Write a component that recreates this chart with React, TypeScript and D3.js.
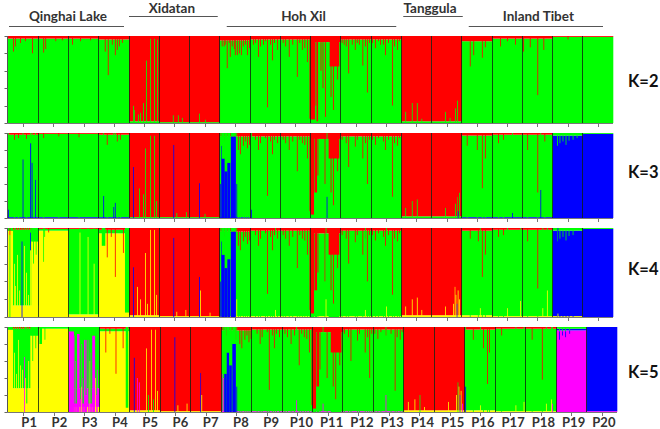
import React from "react";
import * as d3 from "d3";

// ---------------- DATA ----------------
const POPULATIONS = ["P1","P2","P3","P4","P5","P6","P7","P8","P9","P10","P11","P12","P13","P14","P15","P16","P17","P18","P19","P20"];
const GROUP_NAMES = ["Qinghai Lake","Xidatan","Hoh Xil","Tanggula","Inland Tibet"];
const GROUP_FIRST = ["P1","P5","P8","P14","P16"];
const GROUP_LAST = ["P4","P7","P13","P15","P20"];
const K_VALUES = [2,3,4,5];
const K_LABELS = ["K=2","K=3","K=4","K=5"];
const CLUSTER_KEYS = ["Y","M","B","G","R"];
const CLUSTER_COLORS = ["#ffff00","#ff00ff","#0000ff","#00ff00","#ff0000"];
const STACK_K2 = ["G","R"];
const STACK_K3 = ["B","G","R"];
const STACK_K4 = ["Y","B","G","R"];
const STACK_K5 = ["Y","M","B","G","R"];
const INDIVIDUALS_PER_POP = 60;
const Y_TICKS = [0,0.2,0.4,0.6,0.8,1];

// population default membership (per K)
const BASE_K2 = ["G97R3","G97R3","G97R3","G96R4","R98G2","R99G1","R99G1","G95R5","G96R4","G96R4","G93R7","G96R4","G96R4","R98G2","R98G2","G94R6","G97R3","G97R3","G99R1","G99R1"];
const BASE_K3 = ["G97R2B1","G98R1B1","G98R1B1","G97R2B1","R99G1","R99G1","R99G1","G95R4B1","G96R4","G96R4","G93R7","G96R4","G96R4","R98G2","R98G2","G96R3B1","G97R2B1","G97R2B1","B97G3","B99G1"];
const BASE_K4 = ["G85Y13R2","Y97G2R1","G96Y3R1","Y94G4R2","R98Y2","R99Y1","R99Y1","G95R4Y1","G96R3Y1","G96R3Y1","G93R6Y1","G96R3Y1","G96R3Y1","R98Y2","R98Y2","G95R3Y2","G97R2Y1","G97R2Y1","B96G3Y1","B99G1"];
const BASE_K5 = ["G70Y28R2","Y98G2","G72M22Y6","Y95G3R2","R98Y2","R99Y1","R99Y1","G95R4M1","G96R3M1","G96R3M1","G93R6M1","G96R3M1","G96R3M1","R98Y2","R98Y2","G95R3Y2","G97R2Y1","G97R2Y1","M96G2B2","B99M1"];

// small red top-spikes shared by the Hoh Xil populations (pop, individual, membership)
const HOHXIL_MINOR = [
  [8,10,"R10"],[8,18,"R8"],[8,28,"R15"],[8,50,"R10"],[8,58,"R14"],
  [9,10,"R8"],[9,20,"R12"],[9,30,"R6"],[9,40,"R10"],[9,48,"R8"],
  [10,5,"R8"],[10,10,"R12"],[10,24,"R10"],[10,38,"R8"],[10,48,"R14"],
  [12,2,"R8"],[12,10,"R12"],[12,32,"R8"],[12,48,"R12"],[12,56,"R8"],
  [13,2,"R8"],[13,14,"R6"],[13,24,"R10"],[13,34,"R8"],[13,46,"R12"],[13,56,"R6"],
];

// admixed individuals: [population, first individual, last individual, membership]
const SPIKES_K2 = [
  [1,10,10,"R18"],[1,14,14,"R12"],[1,24,24,"R8"],[1,34,34,"R6"],[1,48,48,"R20"],
  [2,10,10,"R19"],[2,14,14,"R15"],[2,34,34,"R6"],[2,47,47,"R5"],
  [3,7,7,"R10"],[3,23,23,"R6"],[3,43,43,"R5"],
  [4,12,12,"R18"],[4,18,18,"R45"],[4,26,26,"R10"],[4,32,32,"R22"],[4,36,36,"R16"],[4,40,40,"R12"],[4,46,46,"R8"],
  [5,8,8,"G20"],[5,10,10,"G15"],[5,18,18,"G10"],[5,22,22,"G12"],[5,28,28,"G23"],[5,34,34,"G72"],[5,42,42,"G97"],[5,50,50,"G97"],[5,56,56,"G96"],
  [6,27,27,"G9"],[6,37,37,"G9"],[6,45,45,"G6"],
  [7,19,19,"G11"],[7,31,31,"G4"],
  [8,4,4,"R12"],[8,8,8,"R12"],[8,14,14,"R37"],[8,20,20,"R24"],[8,24,24,"R12"],[8,30,30,"R22"],[8,34,34,"R22"],[8,38,38,"R20"],[8,42,42,"R22"],[8,46,46,"R12"],[8,54,54,"R22"],
  [9,6,6,"R10"],[9,16,16,"R24"],[9,26,26,"R10"],[9,34,34,"R82"],[9,44,44,"R28"],[9,54,54,"R16"],
  [10,17,17,"R24"],[10,33,33,"R47"],[10,43,43,"R16"],[10,53,53,"R30"],[10,58,59,"R95"],
  [11,0,8,"R96"],[11,10,10,"R80"],[11,12,14,"R98"],[11,20,20,"R40"],[11,24,24,"R60"],[11,29,29,"R93"],[11,38,56,"R35"],[11,40,40,"R70"],[11,45,45,"R85"],[11,53,53,"R50"],
  [12,6,6,"R10"],[12,15,15,"R43"],[12,22,22,"R10"],[12,28,28,"R16"],[12,36,36,"R10"],[12,43,43,"R34"],[12,52,52,"R65"],
  [13,8,8,"R14"],[13,18,18,"R10"],[13,28,28,"R22"],[13,42,42,"R80"],[13,52,52,"R16"],
  [14,8,8,"G13"],[14,21,21,"G23"],[14,31,31,"G23"],[14,40,40,"G5"],
  [15,27,27,"G13"],[15,36,36,"G6"],[15,47,47,"G17"],[15,51,51,"G26"],
  [16,16,16,"R35"],[16,23,23,"R22"],[16,40,40,"R25"],[16,46,46,"R13"],
  [17,16,16,"R12"],[17,30,30,"R6"],[17,46,46,"R10"],
  [18,2,2,"R18"],[18,15,15,"R13"],[18,30,30,"R68"],[18,42,42,"R16"],
  [19,30,30,"R4"],
];

const SPIKES_K3 = [
  [1,0,0,"B10"],[1,12,12,"R8"],[1,20,20,"R6"],[1,29,29,"B69"],[1,36,36,"R7"],[1,44,45,"B88"],[1,47,47,"B65"],[1,54,54,"B45"],
  [2,10,10,"R6"],[2,40,40,"R4"],
  [3,20,20,"R5"],
  [4,9,9,"B26"],[4,16,16,"R14"],[4,29,29,"B13"],[4,32,32,"B18"],[4,36,36,"R10"],[4,42,42,"R8"],
  [5,8,8,"B60"],[5,20,20,"G35"],[5,28,28,"G28"],[5,32,32,"G82"],[5,42,42,"G97"],[5,50,50,"G97"],[5,54,54,"G20"],
  [6,28,28,"B86"],[6,34,34,"G6"],[6,53,53,"G7"],
  [7,19,19,"B41"],[7,30,30,"G5"],
  [8,1,1,"B40"],[8,3,3,"B85"],[8,4,9,"B70"],[8,10,14,"B55"],[8,15,20,"B65"],[8,22,31,"B96"],[8,33,33,"B40"],[8,36,36,"R20"],[8,40,40,"R25"],[8,46,46,"R15"],[8,54,54,"R18"],
  [9,2,2,"B10"],[9,16,16,"R20"],[9,34,34,"R74"],[9,44,44,"R25"],[9,54,54,"R12"],
  [10,17,17,"R20"],[10,33,33,"R45"],[10,43,43,"R12"],[10,53,53,"R30"],[10,58,59,"R92"],
  [11,0,6,"R96"],[11,8,12,"R70"],[11,14,14,"R50"],[11,28,28,"R60"],[11,32,32,"B25"],[11,36,56,"R30"],[11,40,40,"R70"],[11,45,45,"R85"],[11,53,53,"R45"],
  [12,15,15,"R40"],[12,28,28,"R16"],[12,43,43,"R30"],[12,52,52,"R60"],
  [13,8,8,"R14"],[13,28,28,"R20"],[13,42,42,"R75"],[13,52,52,"R15"],
  [14,8,8,"G12"],[14,21,21,"G20"],[14,31,31,"G22"],
  [15,27,27,"G12"],[15,47,47,"G17"],[15,51,51,"G25"],[15,52,52,"B8"],[15,55,55,"G30"],
  [16,10,10,"R15"],[16,30,30,"R20"],[16,40,40,"R65"],[16,46,46,"R30"],
  [17,12,12,"R12"],[17,22,22,"R8"],[17,40,40,"B6"],
  [18,10,10,"R20"],[18,30,30,"R70"],[18,36,36,"B33"],[18,44,44,"R10"],
  [19,9,9,"G15"],[19,14,14,"G12"],[19,20,20,"G10"],[19,26,26,"G14"],[19,32,32,"G9"],[19,40,40,"G8"],[19,48,48,"G6"],
];

const SPIKES_K4 = [
  [1,0,9,"Y97"],[1,3,3,"R8"],[1,12,12,"Y60"],[1,14,14,"Y35"],[1,18,18,"Y70"],[1,22,22,"Y30"],[1,27,27,"B85"],[1,32,32,"Y80"],[1,36,36,"Y50"],[1,40,40,"Y25"],[1,44,44,"Y75B20"],[1,46,59,"Y85"],[1,50,50,"Y60"],[1,55,55,"Y70"],
  [2,10,10,"G38"],[2,12,12,"G10"],[2,20,20,"R5"],
  [3,22,22,"Y95"],[3,38,38,"Y90"],[3,50,50,"Y60"],
  [4,6,12,"G20"],[4,16,16,"R33"],[4,24,24,"R10"],[4,32,32,"R55"],[4,48,48,"R28"],[4,52,59,"G95"],
  [5,8,8,"B56"],[5,16,16,"Y34"],[5,22,22,"Y20"],[5,32,32,"Y72"],[5,36,36,"Y15"],[5,42,42,"Y98"],[5,50,50,"Y98"],[5,54,54,"Y25"],
  [6,28,28,"B89"],[6,34,34,"Y6"],[6,52,52,"Y8"],
  [7,19,19,"B45"],[7,21,21,"Y30"],[7,40,40,"Y5"],
  [8,1,1,"B40"],[8,3,3,"B85"],[8,4,9,"B70"],[8,10,14,"B55"],[8,15,20,"B65"],[8,22,31,"B96"],[8,33,33,"Y20"],[8,36,36,"R20"],[8,40,40,"R25"],[8,46,46,"R15"],[8,54,54,"R18"],
  [9,16,16,"R20"],[9,34,34,"R74"],[9,44,44,"R25"],[9,50,50,"Y8"],[9,54,54,"R12"],
  [10,17,17,"R20"],[10,33,33,"R45"],[10,43,43,"R12"],[10,53,53,"R30"],[10,58,59,"R92"],
  [11,0,6,"R96"],[11,8,12,"R70"],[11,14,14,"R50"],[11,28,28,"R60"],[11,30,30,"Y20"],[11,36,56,"R30"],[11,40,40,"R70"],[11,45,45,"R85"],[11,53,53,"R45"],
  [12,15,15,"R40"],[12,28,28,"R16"],[12,43,43,"R30"],[12,48,48,"Y8"],[12,52,52,"R60"],
  [13,8,8,"R14"],[13,28,28,"R20"],[13,30,30,"Y12"],[13,42,42,"R75"],[13,52,52,"R15"],
  [14,8,8,"Y12"],[14,21,21,"Y20"],[14,31,31,"Y22"],[14,40,40,"Y8"],
  [15,27,27,"Y12"],[15,43,43,"Y15"],[15,46,46,"Y34"],[15,48,48,"Y25"],[15,50,50,"B15"],[15,52,52,"Y30"],[15,55,55,"Y20"],
  [16,16,16,"R12"],[16,32,32,"R15"],[16,36,36,"Y10"],[16,40,40,"R55"],[16,46,46,"R30"],
  [17,12,12,"R10"],[17,22,22,"R8"],[17,30,30,"Y10"],[17,56,56,"Y18"],
  [18,10,10,"R15"],[18,30,30,"R68"],[18,40,40,"Y10"],[18,49,49,"Y30"],
  [19,9,9,"G15"],[19,10,10,"Y4"],[19,14,14,"G12"],[19,20,20,"G10"],[19,26,26,"G14"],[19,32,32,"G9"],[19,40,40,"G8"],
];

const SPIKES_K5 = [
  [1,0,9,"Y97"],[1,12,12,"Y70"],[1,16,16,"Y45"],[1,20,20,"Y85"],[1,24,24,"Y55"],[1,28,28,"Y50"],[1,32,32,"M65"],[1,34,34,"Y40"],[1,36,37,"G90"],[1,40,40,"Y60"],[1,44,59,"Y90"],[1,48,48,"Y60"],[1,54,54,"Y75"],
  [2,2,6,"Y80"],[2,12,12,"Y85"],
  [3,0,9,"M95"],[3,10,10,"G90"],[3,11,11,"M90"],[3,12,12,"G90"],[3,13,13,"M60"],[3,14,14,"G90"],[3,16,20,"M92"],[3,22,22,"G85"],
  [3,24,24,"Y30"],[3,25,25,"M80"],[3,26,26,"G90"],[3,27,27,"M40"],[3,28,28,"G90"],[3,30,35,"M85"],[3,33,33,"G80"],
  [3,38,38,"G90"],[3,39,39,"M85"],[3,40,40,"G90"],[3,41,41,"Y60"],[3,42,42,"G90"],[3,43,43,"M70"],[3,44,44,"G90"],
  [3,46,51,"M90"],[3,52,52,"Y40"],[3,54,54,"G80"],[3,55,55,"M50"],
  [4,12,12,"R30"],[4,20,20,"R8"],[4,32,32,"R55"],[4,46,46,"R25"],[4,52,56,"G95"],
  [5,8,8,"B64"],[5,14,14,"M40"],[5,18,18,"M35"],[5,32,32,"Y75"],[5,36,36,"G20"],[5,42,42,"Y97"],[5,46,46,"G15"],[5,50,50,"Y97"],[5,54,54,"Y25"],
  [6,28,28,"B88"],[6,34,34,"Y8"],[6,52,52,"Y10"],
  [7,19,19,"B46"],[7,21,21,"Y20"],
  [8,1,1,"M45"],[8,4,4,"M40"],[8,6,10,"B45"],[8,11,15,"B70"],[8,16,20,"B55"],[8,22,28,"B80"],[8,30,30,"B30"],[8,36,36,"R20"],[8,40,40,"R25"],[8,46,46,"R15"],[8,54,54,"R18"],
  [9,16,16,"R20"],[9,34,34,"R74"],[9,44,44,"R25"],[9,54,54,"R12"],
  [10,17,17,"R20"],[10,28,28,"M14"],[10,33,33,"R45"],[10,43,43,"R12"],[10,53,53,"R30"],[10,58,59,"R92"],
  [11,0,6,"R96"],[11,8,12,"R70"],[11,14,14,"R50"],[11,20,20,"M10"],[11,28,28,"R60"],[11,36,56,"R30"],[11,40,40,"R70"],[11,45,45,"R85"],[11,53,53,"R45"],
  [12,15,15,"R40"],[12,28,28,"R16"],[12,43,43,"R30"],[12,52,52,"R60"],
  [13,8,8,"R14"],[13,24,24,"M20"],[13,42,42,"R75"],[13,52,52,"R15"],
  [14,8,8,"Y12"],[14,21,21,"Y15"],[14,31,31,"G20"],[14,40,40,"Y6"],
  [15,27,27,"Y12"],[15,43,43,"Y20"],[15,46,46,"G35"],[15,48,48,"Y30"],[15,50,50,"B20"],[15,52,52,"Y25"],[15,55,55,"M10"],
  [16,1,1,"B30"],[16,16,16,"R15"],[16,30,30,"Y8"],[16,36,36,"R25"],[16,44,44,"R67"],[16,48,48,"R30"],
  [17,12,12,"R10"],[17,40,40,"Y8"],[17,56,56,"Y12"],
  [18,12,12,"R15"],[18,32,32,"R62"],[18,40,40,"Y10"],[18,50,50,"Y15"],[18,52,52,"M10"],
  [19,6,6,"M85B10"],[19,12,12,"M90B5"],[19,18,18,"M88B7"],[19,26,26,"M92B4"],
];

const PANEL_BASES = [BASE_K2, BASE_K3, BASE_K4, BASE_K5];
const PANEL_SPIKES = [SPIKES_K2, SPIKES_K3, SPIKES_K4, SPIKES_K5];
const PANEL_STACKS = [STACK_K2, STACK_K3, STACK_K4, STACK_K5];

// ---------------- LAYOUT ----------------
const W = 660, H = 429;
const LEFT = 8;
const PANEL_LAYOUT = [
  { top: 36, bottom: 123, right: 613, labelY: 87 },
  { top: 133, bottom: 218, right: 613, labelY: 178 },
  { top: 228, bottom: 317, right: 613, labelY: 275 },
  { top: 327, bottom: 412, right: 617, labelY: 378 },
];
// group header layout: [inset left, inset right, level (0 low / 1 high), text dx]
const GROUP_LAYOUT = [
  [1, 5, 0, 1.5],
  [0, 2, 1, -1.5],
  [7, 5, 0, -8],
  [2, -1, 1, -3],
  [7, 10, 0, 2.5],
];
const FONT = "Lato, 'Open Sans', 'Liberation Sans', Arial, sans-serif";
const MIN_SPIKE_W = 0.8;
const color = d3.scaleOrdinal<string, string>().domain(CLUSTER_KEYS).range(CLUSTER_COLORS);

type Comp = Record<string, number>;
function parseComp(s: string): Comp {
  const out: Comp = {};
  const re = /([A-Z])(\d+)/g;
  let m: RegExpExecArray | null;
  while ((m = re.exec(s))) out[m[1]] = +m[2] / 100;
  return out;
}
function normalize(c: Comp): Comp {
  const s = d3.sum(Object.values(c));
  const o: Comp = {};
  Object.keys(c).forEach((k) => (o[k] = c[k] / s));
  return o;
}
function resolveSpike(spec: Comp, base: Comp): Comp {
  const o: Comp = { ...spec };
  const rem = Math.max(0, 1 - d3.sum(Object.values(spec)));
  const ranked = Object.keys(base).sort((a, b) => base[b] - base[a]);
  const target = ranked.find((k) => !(k in spec)) || ranked[0];
  o[target] = (o[target] || 0) + rem;
  return o;
}

function Panel({ idx }: { idx: number }) {
  const lay = PANEL_LAYOUT[idx];
  const order = PANEL_STACKS[idx];
  const x = d3.scaleBand<string>().domain(POPULATIONS).range([LEFT, lay.right]);
  const y = d3.scaleLinear().domain([0, 1]).range([lay.bottom, lay.top]);
  const xi = d3.scaleLinear().domain([0, INDIVIDUALS_PER_POP]).range([0, x.bandwidth()]);
  const stack = d3.stack<Comp>().keys(order).value((d, key) => d[key] || 0);

  const baseComps = PANEL_BASES[idx].map((s) => normalize(parseComp(s)));
  const baseSeries = stack(baseComps);
  const minor = HOHXIL_MINOR.map(([p, i, c]) => [p, i, i, c]);
  const spikes = [...minor, ...PANEL_SPIKES[idx]] as [number, number, number, string][];
  const spikeComps = spikes.map(([p, , , c]) => resolveSpike(parseComp(c), baseComps[p - 1]));
  const spikeSeries = stack(spikeComps);

  const bw = x.bandwidth();
  return (
    <g>
      {baseSeries.map((s) =>
        s.map((d, i) =>
          d[1] - d[0] > 0 ? (
            <rect key={`b${s.key}${i}`} x={x(POPULATIONS[i])} width={bw + 0.3} y={y(d[1])} height={y(d[0]) - y(d[1])} fill={color(s.key)} />
          ) : null
        )
      )}
      {spikes.map(([p, f, t], j) =>
        spikeSeries.map((s) => {
          const d = s[j];
          if (d[1] - d[0] <= 0) return null;
          const x0 = x(POPULATIONS[p - 1])! + xi(f);
          const x1 = x(POPULATIONS[p - 1])! + xi(t + 1);
          const w = Math.max(MIN_SPIKE_W, x1 - x0);
          return <rect key={`s${j}${s.key}`} x={x0} width={w} y={y(d[1])} height={y(d[0]) - y(d[1])} fill={color(s.key)} />;
        })
      )}
      {POPULATIONS.slice(1).map((p) => {
        const sx = Math.floor(x(p)!) + 0.5;
        return <line key={`sep${p}`} x1={sx} x2={sx} y1={lay.top} y2={lay.bottom} stroke="#102010" strokeOpacity={0.8} strokeWidth={1} />;
      })}
      {/* axes */}
      <line x1={LEFT - 0.5} x2={LEFT - 0.5} y1={lay.top} y2={lay.bottom + 0.5} stroke="#555" strokeWidth={1} />
      {Y_TICKS.map((t) => (
        <line key={`yt${t}`} x1={LEFT - 3.5} x2={LEFT - 0.5} y1={Math.round(y(t)) + 0.5} y2={Math.round(y(t)) + 0.5} stroke="#666" strokeWidth={1} />
      ))}
      <line x1={LEFT - 0.5} x2={lay.right} y1={lay.bottom + 0.5} y2={lay.bottom + 0.5} stroke="#777" strokeWidth={1} />
      {POPULATIONS.map((p) => {
        const cx = Math.round(x(p)! + bw / 2) + 0.5;
        return <line key={`xt${p}`} x1={cx} x2={cx} y1={lay.bottom + 0.5} y2={lay.bottom + 4} stroke="#777" strokeWidth={1} />;
      })}
      <text x={628} y={lay.labelY} fontFamily={FONT} fontWeight={700} fontSize={16.5} fill="#111">
        {K_LABELS[idx]}
      </text>
      {idx === K_VALUES.length - 1 &&
        POPULATIONS.map((p) => {
          const xl = d3.scaleBand<string>().domain(POPULATIONS).range([LEFT, PANEL_LAYOUT[0].right]);
          return (
            <text key={`pl${p}`} x={xl(p)! + xl.bandwidth() / 2 + 6} y={427} textAnchor="middle" fontFamily={FONT} fontWeight={700} fontSize={13} fill="#333">
              {p}
            </text>
          );
        })}
    </g>
  );
}

function Groups() {
  const x = d3.scaleBand<string>().domain(POPULATIONS).range([LEFT, PANEL_LAYOUT[0].right]);
  return (
    <g>
      {GROUP_NAMES.map((name, i) => {
        const [il, ir, level, dx] = GROUP_LAYOUT[i];
        const x0 = x(GROUP_FIRST[i])! + il;
        const x1 = x(GROUP_LAST[i])! + x.bandwidth() - ir;
        const ly = level === 1 ? 16.5 : 26.5;
        const ty = level === 1 ? 12.5 : 20.5;
        return (
          <g key={name}>
            <line x1={x0} x2={x1} y1={ly} y2={ly} stroke="#555" strokeWidth={1.2} />
            <text x={(x0 + x1) / 2 + dx} y={ty} textAnchor="middle" fontFamily={FONT} fontWeight={700} fontSize={13.5} fill="#333">
              {name}
            </text>
          </g>
        );
      })}
    </g>
  );
}

export default function App() {
  return (
    <svg width={W} height={H} viewBox={`0 0 ${W} ${H}`} style={{ position: "absolute", left: 0, top: 0, background: "#fff" }}>
      <rect x={0} y={0} width={W} height={H} fill="#fff" />
      <Groups />
      {K_VALUES.map((k, i) => (
        <Panel key={k} idx={i} />
      ))}
    </svg>
  );
}
